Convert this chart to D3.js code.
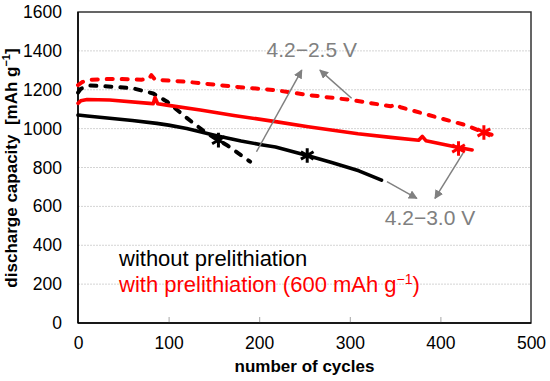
<!DOCTYPE html>
<html lang="en">
<head>
<meta charset="UTF-8">
<title>Discharge capacity vs cycles</title>
<style>
  body { margin: 0; background: #fff; }
  svg { display: block; font-family: Arial, "Liberation Sans", sans-serif; }
</style>
</head>
<body>
<svg id="chart" width="550" height="381"></svg>
<script src="https://cdn.jsdelivr.net/npm/d3@7"></script>
<script>
/* global d3 */

// [cycle, mAh/g]
var noPreli30 = [[0,1070],[10,1065],[35,1053],[60,1042],[87,1027],[100,1018],[120,1001],[153,963],
    [180,936],[204,916],[218,905],[253,862],[280,826],[310,783],[335,735]];
var noPreli25 = [[0,1185],[3,1205],[13,1222],[40,1215],[61,1207],[83,1181],[98,1140],[120,1055],
    [142,976],[164,916],[190,830]];
var preli30 = [[0,1130],[3,1143],[10,1150],[35,1147],[79,1130],[83,1128],[85,1160],[88,1128],
    [98,1121],[135,1096],[172,1068],[218,1036],[254,1010],[309,974],[345,955],[376,940],[380,960],
    [384,938],[416,907],[435,890]];
var preli25 = [[0,1224],[5,1240],[15,1252],[40,1256],[70,1252],[78,1255],[81,1275],[85,1252],
    [120,1241],[172,1216],[218,1198],[254,1173],[302,1147],[345,1115],[352,1124],[356,1110],
    [394,1061],[428,1018],[448,980],[464,958]];

// end-of-life markers
var stars = [
    {c: 155, v: 941, color: "#000"},
    {c: 253, v: 862, color: "#000"},
    {c: 420, v: 898, color: "#ff0000"},
    {c: 448, v: 980, color: "#ff0000"}
];

var xTicks = [0, 100, 200, 300, 400, 500];
var yTicks = [0, 200, 400, 600, 800, 1000, 1200, 1400, 1600];

var svg = d3.select("#chart");
var x = d3.scaleLinear().domain([0, 500]).range([78, 531]);
var y = d3.scaleLinear().domain([0, 1600]).range([323, 12]);

// gridlines
svg.append("g")
    .selectAll("line")
    .data(yTicks.slice(1, -1))
    .join("line")
    .attr("x1", x(0)).attr("x2", x(500))
    .attr("y1", d => y(d)).attr("y2", d => y(d))
    .attr("stroke", "#d4d4d4")
    .attr("stroke-dasharray", "2,1");

// frame
svg.append("rect")
    .attr("x", x(0)).attr("y", y(1600))
    .attr("width", x(500) - x(0)).attr("height", y(0) - y(1600))
    .attr("fill", "none").attr("stroke", "#333").attr("stroke-width", 1.5);

// small inner ticks on x
svg.append("g")
    .attr("transform", "translate(0," + y(0) + ")")
    .call(d3.axisBottom(x).tickValues([100, 200, 300, 400]).tickSize(-6).tickFormat(""))
    .call(g => g.select(".domain").remove())
    .call(g => g.selectAll("line").attr("stroke", "#a6a6a6"));

// axes
var xAxis = svg.append("g")
    .attr("transform", "translate(0," + y(0) + ")")
    .call(d3.axisBottom(x).tickValues(xTicks).tickSize(0).tickPadding(14).tickFormat(d3.format("d")));
var yAxis = svg.append("g")
    .attr("transform", "translate(" + x(0) + ",0)")
    .call(d3.axisLeft(y).tickValues(yTicks).tickSize(0).tickPadding(16).tickFormat(d3.format("d")));

[xAxis, yAxis].forEach(function(g) {
    g.select(".domain").attr("stroke", "#000").attr("stroke-width", 1.5);
    g.selectAll("text")
        .attr("font-family", "Arial, 'Liberation Sans', sans-serif")
        .attr("font-size", "17.5px")
        .attr("fill", "#000");
});
yAxis.select(".domain").attr("d", "M0," + y(0) + "V" + y(1600));
xAxis.select(".domain").attr("d", "M" + x(0) + ",0H" + x(500));

// curves
var line = d3.line().x(d => x(d[0])).y(d => y(d[1]));

function drawCurve(data, color, dashed) {
    svg.append("path")
        .datum(data)
        .attr("d", line)
        .attr("fill", "none")
        .attr("stroke", color)
        .attr("stroke-width", dashed ? 4 : 3.6)
        .attr("stroke-linecap", "round")
        .attr("stroke-linejoin", "round")
        .attr("stroke-dasharray", dashed ? "6,9" : null);
}
drawCurve(noPreli30, "#000", false);
drawCurve(noPreli25, "#000", true);
drawCurve(preli30, "#ff0000", false);
drawCurve(preli25, "#ff0000", true);

svg.append("g")
    .selectAll("path")
    .data(stars)
    .join("path")
    .attr("transform", d => "translate(" + x(d.c) + "," + y(d.v) + ")")
    .attr("d", d3.symbol().type(d3.symbolAsterisk).size(150))
    .attr("fill", "none")
    .attr("stroke", d => d.color)
    .attr("stroke-width", 3);

// annotations
var grey = "#808080";
svg.append("defs").append("marker")
    .attr("id", "head")
    .attr("viewBox", "0 0 10 10")
    .attr("refX", 9).attr("refY", 5)
    .attr("markerWidth", 6).attr("markerHeight", 6)
    .attr("markerUnits", "strokeWidth")
    .attr("orient", "auto")
    .append("path")
    .attr("d", "M0,0L10,5L0,10z")
    .attr("fill", grey);

var arrows = [
    [[197, 881], [247, 1301]],
    [[302, 1156], [267, 1301]],
    [[341, 727], [374, 641]],
    [[425, 874], [394, 641]]
];
svg.append("g")
    .selectAll("line")
    .data(arrows)
    .join("line")
    .attr("x1", d => x(d[0][0])).attr("y1", d => y(d[0][1]))
    .attr("x2", d => x(d[1][0])).attr("y2", d => y(d[1][1]))
    .attr("stroke", grey)
    .attr("stroke-width", 1.5)
    .attr("marker-end", "url(#head)");

var voltLabels = [
    {c: 258, v: 1370, text: "4.2\u22122.5 V"},
    {c: 388.5, v: 504, text: "4.2\u22123.0 V"}
];
svg.append("g")
    .selectAll("text")
    .data(voltLabels)
    .join("text")
    .attr("x", d => x(d.c)).attr("y", d => y(d.v))
    .attr("text-anchor", "middle")
    .attr("font-size", "21px")
    .attr("fill", grey)
    .text(d => d.text);

// legend text
svg.append("text")
    .attr("x", 119).attr("y", 266)
    .attr("font-size", "22px")
    .attr("fill", "#000")
    .text("without prelithiation");

var red = svg.append("text")
    .attr("x", 119).attr("y", 291.7)
    .attr("font-size", "22px")
    .attr("fill", "#ff0000");
red.append("tspan").text("with prelithiation (600 mAh g");
red.append("tspan").attr("font-size", "14px").attr("dy", -8).text("\u22121");
red.append("tspan").attr("dy", 8).text(")");

// axis titles
svg.append("text")
    .attr("x", 304.5).attr("y", 372)
    .attr("text-anchor", "middle")
    .attr("font-size", "17px")
    .attr("font-weight", "bold")
    .text("number of cycles");

var yt = svg.append("text")
    .attr("transform", "translate(17,168) rotate(-90)")
    .attr("text-anchor", "middle")
    .attr("font-size", "17px")
    .attr("font-weight", "bold");
yt.append("tspan").text("discharge capacity\u00a0 [mAh g");
yt.append("tspan").attr("font-size", "11px").attr("dy", -7).text("\u22121");
yt.append("tspan").attr("dy", 7).text("]");
</script>
</body>
</html>
